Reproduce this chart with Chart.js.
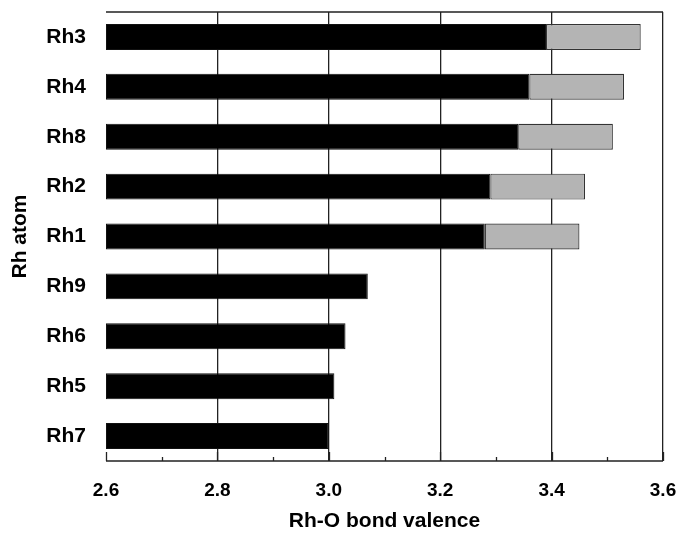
<!DOCTYPE html>
<html>
<head>
<meta charset="utf-8">
<script src="https://cdn.jsdelivr.net/npm/chart.js@4/dist/chart.umd.min.js"></script>
<style>
  html, body { margin: 0; padding: 0; background: #fff; }
  #wrap { width: 679px; height: 534px; }
</style>
</head>
<body>
<div id="wrap"><canvas id="valenceChart"></canvas></div>
<script>
// Rh atoms, top to bottom
const atoms = ['Rh3', 'Rh4', 'Rh8', 'Rh2', 'Rh1', 'Rh9', 'Rh6', 'Rh5', 'Rh7'];
// black part end
const baseValence = [3.39, 3.36, 3.34, 3.29, 3.28, 3.07, 3.03, 3.01, 3.00];
// grey part end (null = no grey part)
const totalValence = [3.56, 3.53, 3.51, 3.46, 3.45, null, null, null, null];
const axisMin = 2.6;
const axisMax = 3.6;

const blackBars = baseValence.map(v => [axisMin, v]);
const greyBars = totalValence.map((v, i) => v === null ? null : [baseValence[i], v]);

const isMajor = v => Math.round(v * 10) % 2 === 0;

// inward tick marks + top frame line
const frame = {
    id: 'frame',
    afterDraw(chart) {
        const ctx = chart.ctx;
        const a = chart.chartArea;
        const x = chart.scales.x;
        ctx.save();
        ctx.strokeStyle = '#222';
        ctx.lineWidth = 1.3;
        ctx.beginPath();
        ctx.moveTo(a.left, a.top);
        ctx.lineTo(a.right, a.top);
        ctx.moveTo(a.left, a.bottom);
        ctx.lineTo(a.right, a.bottom);
        x.ticks.forEach(t => {
            const px = Math.round(x.getPixelForValue(t.value)) + 0.5;
            const len = isMajor(t.value) ? 9 : 4;
            ctx.moveTo(px, a.bottom);
            ctx.lineTo(px, a.bottom - len);
        });
        ctx.stroke();
        ctx.restore();
    }
};

new Chart(document.getElementById('valenceChart').getContext('2d'), {
    type: 'bar',
    data: {
        labels: atoms,
        datasets: [{
            data: blackBars,
            backgroundColor: '#000',
            borderColor: '#111',
            borderWidth: 1,
            borderSkipped: false,
            grouped: false,
            barPercentage: 0.52,
            categoryPercentage: 1
        }, {
            data: greyBars,
            backgroundColor: '#b4b4b4',
            borderColor: '#333',
            borderWidth: 1.2,
            borderSkipped: false,
            grouped: false,
            barPercentage: 0.52,
            categoryPercentage: 1
        }]
    },
    options: {
        indexAxis: 'y',
        responsive: true,
        maintainAspectRatio: false,
        animation: false,
        layout: { padding: { left: 8, right: 16, top: 12, bottom: 0 } },
        plugins: {
            legend: { display: false },
            tooltip: { enabled: false }
        },
        scales: {
            x: {
                min: axisMin,
                max: axisMax,
                afterFit: s => {
                    s.height = 73;
                    s.paddingLeft = 0;
                    s.paddingRight = 0;
                },
                border: { display: false },
                grid: {
                    drawTicks: false,
                    lineWidth: 1.3,
                    color: c => (c.tick && isMajor(c.tick.value) && c.tick.value > axisMin + 0.01) ? '#222' : 'rgba(0,0,0,0)'
                },
                ticks: {
                    stepSize: 0.1,
                    padding: 18,
                    autoSkip: false,
                    maxRotation: 0,
                    color: '#000',
                    font: { family: 'Liberation Sans', size: 19, weight: 'bold' },
                    callback: v => isMajor(v) ? v.toFixed(1) : ''
                },
                title: {
                    display: true,
                    text: 'Rh-O bond valence',
                    color: '#000',
                    padding: { top: 0, bottom: 0 },
                    font: { family: 'Liberation Sans', size: 21, weight: 'bold' }
                }
            },
            y: {
                afterFit: s => {
                    s.width = 98;
                    s.paddingTop = 0;
                    s.paddingBottom = 0;
                },
                border: { display: false },
                grid: { display: false, drawTicks: false },
                ticks: {
                    padding: 20,
                    color: '#000',
                    font: { family: 'Liberation Sans', size: 21, weight: 'bold' }
                },
                title: {
                    display: true,
                    text: 'Rh atom',
                    color: '#000',
                    padding: 0,
                    font: { family: 'Liberation Sans', size: 21, weight: 'bold' }
                }
            }
        }
    },
    plugins: [frame]
});
</script>
</body>
</html>
